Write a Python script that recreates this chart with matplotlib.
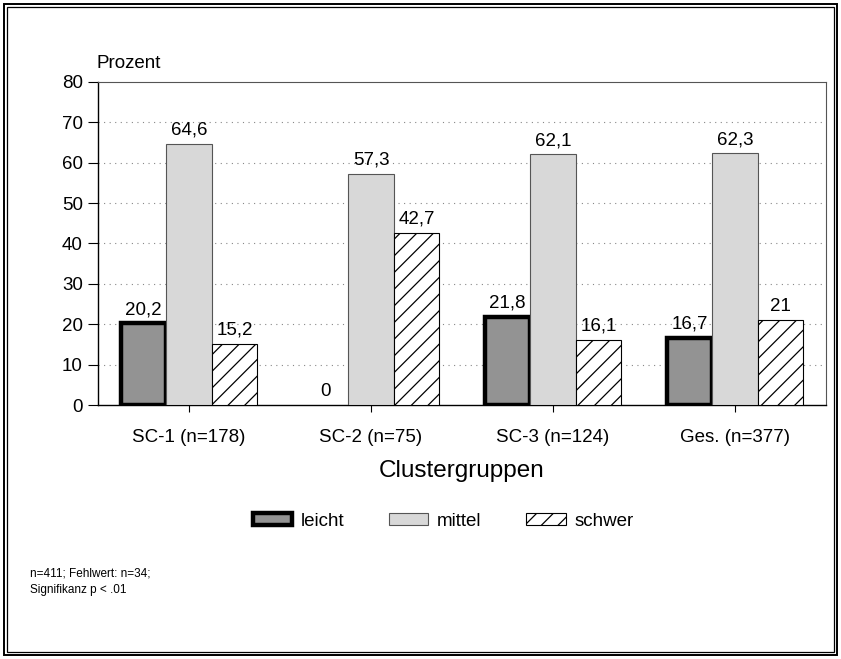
import numpy as np
import matplotlib.pyplot as plt
from matplotlib.patches import Patch, Rectangle

plt.rcParams['font.family'] = ['Liberation Sans', 'DejaVu Sans']
plt.rcParams['hatch.linewidth'] = 0.9

groups = ["SC-1 (n=178)", "SC-2 (n=75)", "SC-3 (n=124)", "Ges. (n=377)"]
leicht = [20.2, 0, 21.8, 16.7]
mittel = [64.6, 57.3, 62.1, 62.3]
schwer = [15.2, 42.7, 16.1, 21]
series_names = ["leicht", "mittel", "schwer"]
yticks = [0, 10, 20, 30, 40, 50, 60, 70, 80]


def fmt(v):
    # German decimal comma, drop trailing ",0"
    if float(v).is_integer():
        return str(int(v))
    return f"{v:.1f}".replace(".", ",")


W, H = 841, 659
fig = plt.figure(figsize=(W / 100, H / 100), dpi=100)
ax = fig.add_axes([98 / W, 1 - 405 / H, (826 - 98) / W, (405 - 82) / H])

x = np.arange(len(groups))
bw = 0.25
styles = [
    dict(facecolor="#939393", edgecolor="black", linewidth=3.2),
    dict(facecolor="#d8d8d8", edgecolor="#555555", linewidth=0.8),
    dict(facecolor="white", edgecolor="black", linewidth=0.8, hatch="//"),
]

for i, (vals, st) in enumerate(zip([leicht, mittel, schwer], styles)):
    xs = x + (i - 1) * bw
    bars = ax.bar(xs, vals, bw, zorder=3, **st)
    for b, v in zip(bars, vals):
        if v == 0:
            b.set_visible(False)
        ax.text(b.get_x() + b.get_width() / 2, v + 1.3, fmt(v),
                ha="center", va="bottom", fontsize=13.5, zorder=4)

ax.set_xlim(-0.5, len(groups) - 0.5)
ax.set_ylim(0, 80)
ax.set_yticks(yticks)
ax.set_yticklabels([str(t) for t in yticks], fontsize=13.5)
ax.set_xticks(x)
ax.set_xticklabels(groups, fontsize=13.5)
ax.tick_params(axis="y", length=7, width=0.8, pad=4)
ax.tick_params(axis="x", length=5, width=0.8, pad=12)

for t in yticks[1:-1]:
    ax.axhline(t, color="#888888", linestyle=(0, (1, 4)), linewidth=0.8, zorder=1)

ax.spines["left"].set_linewidth(1.0)
ax.spines["bottom"].set_linewidth(1.0)
ax.spines["top"].set_color("#555555")
ax.spines["right"].set_color("#555555")

ax.set_xlabel("Clustergruppen", fontsize=17.5, labelpad=10)
fig.text(97 / W, 1 - 63 / H, "Prozent", fontsize=13.5, ha="left", va="center")

handles = [Patch(**st) for st in styles]
fig.legend(handles, series_names, loc="center", bbox_to_anchor=(443 / W, 1 - 521 / H),
           ncol=3, frameon=False, fontsize=13.5, handlelength=2.1, handleheight=0.6,
           columnspacing=2.4, handletextpad=0.45)

fig.text(30 / W, 1 - 573 / H, "n=411; Fehlwert: n=34;", fontsize=8.5, ha="left", va="center")
fig.text(30 / W, 1 - 590 / H, "Signifikanz p < .01", fontsize=8.5, ha="left", va="center")

# double frame around the whole chart
for off, lw in [(4, 1.4), (7, 0.9)]:
    fig.add_artist(Rectangle((off / W, off / H), 1 - 2 * off / W, 1 - 2 * off / H,
                             transform=fig.transFigure, fill=False,
                             edgecolor="black", linewidth=lw))

fig.savefig("out.png", dpi=100)
